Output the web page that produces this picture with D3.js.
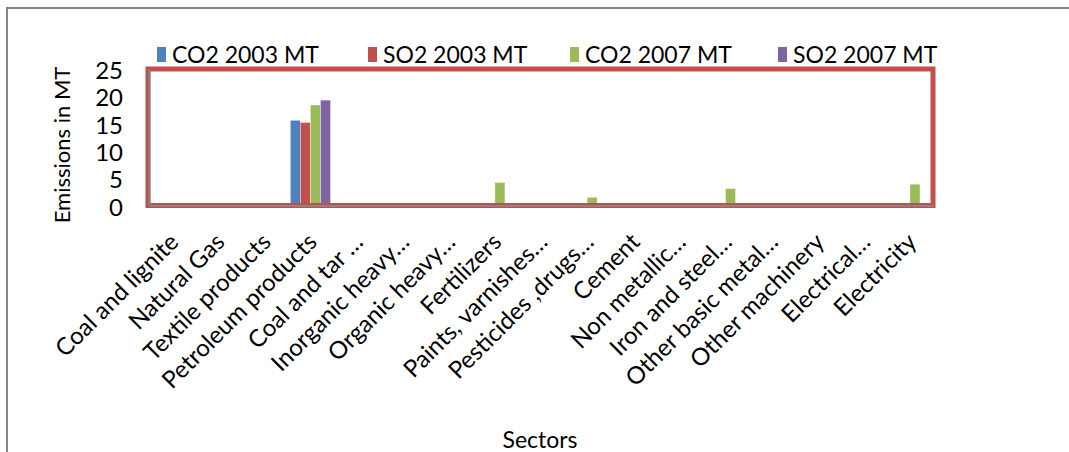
<!DOCTYPE html>
<html>
<head>
<meta charset="utf-8">
<script src="https://cdn.jsdelivr.net/npm/d3@7"></script>
<style>
  html, body { margin: 0; padding: 0; background: #ffffff; }
  svg { display: block; font-family: Lato, "Open Sans", sans-serif; }
</style>
</head>
<body>
<svg id="chart" width="1069" height="452"></svg>
<script>
// Sectors on the category axis
const sectors = [
  "Coal and lignite", "Natural Gas", "Textile products", "Petroleum products",
  "Coal and tar \u2026", "Inorganic heavy\u2026", "Organic heavy\u2026", "Fertilizers",
  "Paints, varnishes\u2026", "Pesticides ,drugs\u2026", "Cement", "Non metallic\u2026",
  "Iron and steel\u2026", "Other basic metal\u2026", "Other machinery", "Electrical\u2026",
  "Electricity"
];

// Emissions (MT) per sector
const co2_2003 = [0, 0, 0, 15.6, 0, 0, 0, 0.3, 0, 0, 0, 0, 0.2, 0, 0, 0, 0.3];
const so2_2003 = [0, 0, 0, 15.2, 0, 0, 0, 0, 0, 0, 0, 0, 0, 0, 0, 0, 0];
const co2_2007 = [0, 0, 0.2, 18.4, 0.2, 0, 0, 4.2, 0, 1.5, 0.2, 0, 3.1, 0, 0.2, 0, 3.9];
const so2_2007 = [0, 0, 0, 19.3, 0, 0, 0, 0.3, 0, 0, 0, 0, 0.2, 0, 0, 0, 0.3];

const seriesNames = ["CO2 2003 MT", "SO2 2003 MT", "CO2 2007 MT", "SO2 2007 MT"];
const seriesValues = [co2_2003, so2_2003, co2_2007, so2_2007];
const seriesColors = ["#4F81BD", "#C0504D", "#9BBB59", "#8064A2"];

const yTicks = [0, 5, 10, 15, 20, 25];

const svg = d3.select("#chart");

// Outer chart frame (runs off the right and bottom edges)
svg.append("rect")
  .attr("x", 7).attr("y", 8)
  .attr("width", 1100).attr("height", 480)
  .attr("fill", "#ffffff")
  .attr("stroke", "#868686")
  .attr("stroke-width", 2);

const plot = { left: 149, right: 933, top: 69, bottom: 205.5 };

const x0 = d3.scaleBand()
  .domain(sectors.map((d, i) => i))
  .range([plot.left, plot.right])
  .paddingInner(0);

const groupPad = 3;
const x1 = d3.scaleBand()
  .domain(seriesNames)
  .range([groupPad, x0.bandwidth() - groupPad]);

const y = d3.scaleLinear()
  .domain([0, 25])
  .range([plot.bottom, plot.top]);

// Bars
const rows = sectors.map((s, i) => ({
  i,
  vals: seriesNames.map((n, k) => ({ name: n, value: seriesValues[k][i], color: seriesColors[k] }))
}));

const groups = svg.append("g").selectAll("g")
  .data(rows)
  .join("g")
  .attr("transform", d => `translate(${x0(d.i)},0)`);

groups.selectAll("rect")
  .data(d => d.vals)
  .join("rect")
  .attr("x", d => x1(d.name))
  .attr("width", x1.bandwidth())
  .attr("y", d => y(d.value))
  .attr("height", d => plot.bottom - y(d.value))
  .attr("fill", d => d.color)
  .attr("stroke", "rgba(255,255,255,0.45)")
  .attr("stroke-width", 0.8);

// Plot area border
svg.append("rect")
  .attr("x", plot.left - 1).attr("y", plot.top)
  .attr("width", plot.right - plot.left + 1)
  .attr("height", plot.bottom - plot.top)
  .attr("fill", "none")
  .attr("stroke", "#C0504D")
  .attr("stroke-width", 5);

// Value axis
const yAxis = d3.axisLeft(y)
  .tickValues(yTicks)
  .tickSize(0)
  .tickPadding(0);

const yAxisG = svg.append("g")
  .attr("transform", `translate(${plot.left},0)`)
  .call(yAxis);
yAxisG.select(".domain").attr("stroke", "#868686").attr("stroke-width", 2);
yAxisG.selectAll("text")
  .attr("x", -26)
  .attr("dy", "0.4em")
  .attr("font-family", "Lato, sans-serif")
  .attr("font-size", 24)
  .attr("fill", "#000");

// Category axis
const xAxis = d3.axisBottom(x0)
  .tickSize(0)
  .tickFormat(i => sectors[i]);

const xAxisG = svg.append("g")
  .attr("transform", `translate(0,${plot.bottom})`)
  .call(xAxis);
xAxisG.select(".domain").attr("stroke", "#868686").attr("stroke-width", 2);
xAxisG.selectAll("text")
  .attr("text-anchor", "end")
  .attr("font-family", "Lato, sans-serif")
  .attr("font-size", 24)
  .attr("fill", "#000")
  .attr("y", 0).attr("dy", 0)
  .attr("transform", "translate(8,38) rotate(-45)");

// Axis titles
svg.append("text")
  .attr("transform", "translate(70,145) rotate(-90)")
  .attr("text-anchor", "middle")
  .attr("font-size", 22)
  .attr("fill", "#000")
  .text("Emissions in MT");

svg.append("text")
  .attr("x", 540).attr("y", 448)
  .attr("text-anchor", "middle")
  .attr("font-size", 23)
  .attr("fill", "#000")
  .text("Sectors");

// Legend
const legendX = [157, 368, 570, 778];
const legend = svg.append("g").selectAll("g")
  .data(seriesNames)
  .join("g")
  .attr("transform", (d, k) => `translate(${legendX[k]},0)`);

legend.append("rect")
  .attr("x", 0).attr("y", 47)
  .attr("width", 9).attr("height", 15)
  .attr("fill", (d, k) => seriesColors[k]);

legend.append("text")
  .attr("x", 15).attr("y", 63)
  .attr("font-size", 23)
  .attr("fill", "#000")
  .text(d => d);
</script>
</body>
</html>
